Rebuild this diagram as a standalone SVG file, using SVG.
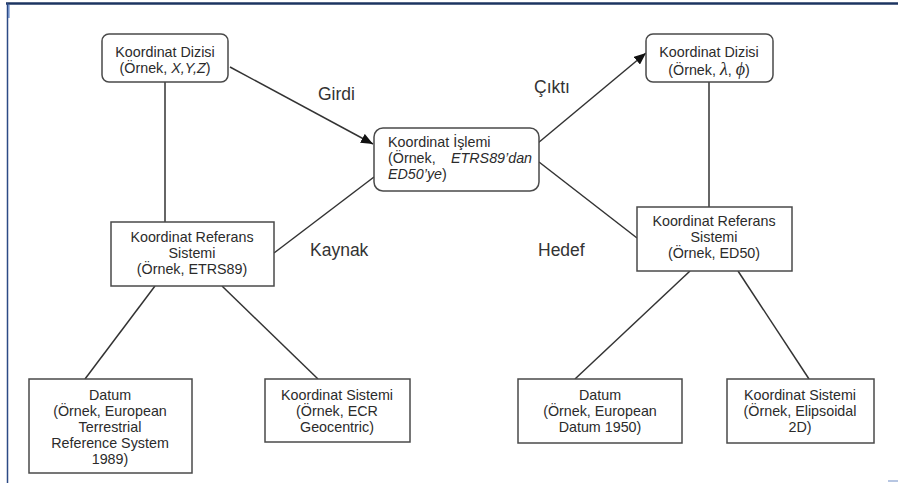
<svg xmlns="http://www.w3.org/2000/svg" width="898" height="483" viewBox="0 0 898 483">
  <style>
    .box { fill: #ffffff; stroke: #4a4a4a; stroke-width: 1.5; }
    .link { fill: none; stroke: #333333; stroke-width: 1.5; }
    .t { font-family: "Liberation Sans", Arial, sans-serif; font-size: 14.3px; fill: #2b2b2b; text-anchor: middle; }
    .tl { font-family: "Liberation Sans", Arial, sans-serif; font-size: 14.3px; fill: #2b2b2b; }
    .it { font-style: italic; }
    .math { font-family: "Liberation Serif", "Times New Roman", serif; font-style: italic; font-size: 18px; }
    .lbl { font-family: "Liberation Sans", Arial, sans-serif; font-size: 17.5px; fill: #333333; }
  </style>
  <defs>
    <marker id="arrow" markerUnits="userSpaceOnUse" markerWidth="14" markerHeight="10" refX="12" refY="5" orient="auto">
      <path d="M0,0 L12,5 L0,10 Z" fill="#111111"/>
    </marker>
  </defs>

  <rect width="898" height="483" fill="#ffffff"/>

  <!-- page frame -->
  <g id="frame">
    <line x1="6" y1="3.5" x2="898" y2="3.5" stroke="#1c3461" stroke-width="2.6"/>
    <line x1="7.5" y1="3" x2="7.5" y2="483" stroke="#2c4a85" stroke-width="1.5"/>
    <line x1="8.8" y1="5" x2="8.8" y2="18" stroke="#6f8fc8" stroke-width="1.6"/>
    <line x1="888" y1="481" x2="898" y2="481" stroke="#9fb3d9" stroke-width="1.5"/>
  </g>

  <!-- connectors -->
  <g id="connectors">
    <line class="link" x1="165" y1="82" x2="165" y2="222"/>
    <line class="link" x1="230" y1="67" x2="373" y2="144" marker-end="url(#arrow)"/>
    <line class="link" x1="274" y1="253" x2="374" y2="177"/>
    <line class="link" x1="538" y1="143" x2="646" y2="53" marker-end="url(#arrow)"/>
    <line class="link" x1="539" y1="162" x2="637" y2="238"/>
    <line class="link" x1="709" y1="82" x2="709" y2="207"/>
    <line class="link" x1="155" y1="286" x2="85" y2="379"/>
    <line class="link" x1="222" y1="286" x2="318" y2="379"/>
    <line class="link" x1="690" y1="271" x2="575" y2="379"/>
    <line class="link" x1="738" y1="271" x2="809" y2="379"/>
  </g>

  <!-- connector labels -->
  <g id="labels">
    <text class="lbl" x="318" y="100">Girdi</text>
    <text class="lbl" x="534" y="93">Çıktı</text>
    <text class="lbl" x="310" y="256">Kaynak</text>
    <text class="lbl" x="538" y="256">Hedef</text>
  </g>

  <g id="src-coords">
    <rect class="box" x="102" y="34" width="126" height="48" rx="7"/>
    <text class="t" x="165" y="57">Koordinat Dizisi</text>
    <text class="t" x="165" y="73">(Örnek, <tspan class="it">X,Y,Z</tspan>)</text>
  </g>

  <g id="operation">
    <rect class="box" x="374" y="128" width="165" height="63" rx="9"/>
    <text class="tl" x="388" y="147">Koordinat İşlemi</text>
    <text class="tl" x="388" y="163">(Örnek,</text>
    <text class="tl it" x="451" y="163">ETRS89’dan</text>
    <text class="tl it" x="388" y="179">ED50’ye<tspan font-style="normal">)</tspan></text>
  </g>

  <g id="dst-coords">
    <rect class="box" x="646" y="34" width="127" height="48" rx="7"/>
    <text class="t" x="709" y="57">Koordinat Dizisi</text>
    <text class="t" x="709" y="75">(Örnek, <tspan class="math">λ</tspan>, <tspan class="math">ϕ</tspan>)</text>
  </g>

  <g id="src-crs">
    <rect class="box" x="111" y="222" width="163" height="64"/>
    <text class="t" x="192" y="242">Koordinat Referans</text>
    <text class="t" x="192" y="258">Sistemi</text>
    <text class="t" x="192" y="274">(Örnek, ETRS89)</text>
  </g>

  <g id="dst-crs">
    <rect class="box" x="637" y="207" width="155" height="64"/>
    <text class="t" x="714" y="226">Koordinat Referans</text>
    <text class="t" x="714" y="242">Sistemi</text>
    <text class="t" x="714" y="258">(Örnek, ED50)</text>
  </g>

  <g id="src-datum">
    <rect class="box" x="29" y="379" width="163" height="94"/>
    <text class="t" x="110" y="400">Datum</text>
    <text class="t" x="110" y="416">(Örnek, European</text>
    <text class="t" x="110" y="432">Terrestrial</text>
    <text class="t" x="110" y="448">Reference System</text>
    <text class="t" x="110" y="464">1989)</text>
  </g>

  <g id="src-cs">
    <rect class="box" x="265" y="379" width="145" height="63"/>
    <text class="t" x="337" y="400">Koordinat Sistemi</text>
    <text class="t" x="337" y="416">(Örnek, ECR</text>
    <text class="t" x="337" y="432">Geocentric)</text>
  </g>

  <g id="dst-datum">
    <rect class="box" x="518" y="379" width="164" height="64"/>
    <text class="t" x="600" y="400">Datum</text>
    <text class="t" x="600" y="416">(Örnek, European</text>
    <text class="t" x="600" y="432">Datum 1950)</text>
  </g>

  <g id="dst-cs">
    <rect class="box" x="727" y="379" width="147" height="64"/>
    <text class="t" x="800" y="400">Koordinat Sistemi</text>
    <text class="t" x="800" y="416">(Örnek, Elipsoidal</text>
    <text class="t" x="800" y="432">2D)</text>
  </g>
</svg>
